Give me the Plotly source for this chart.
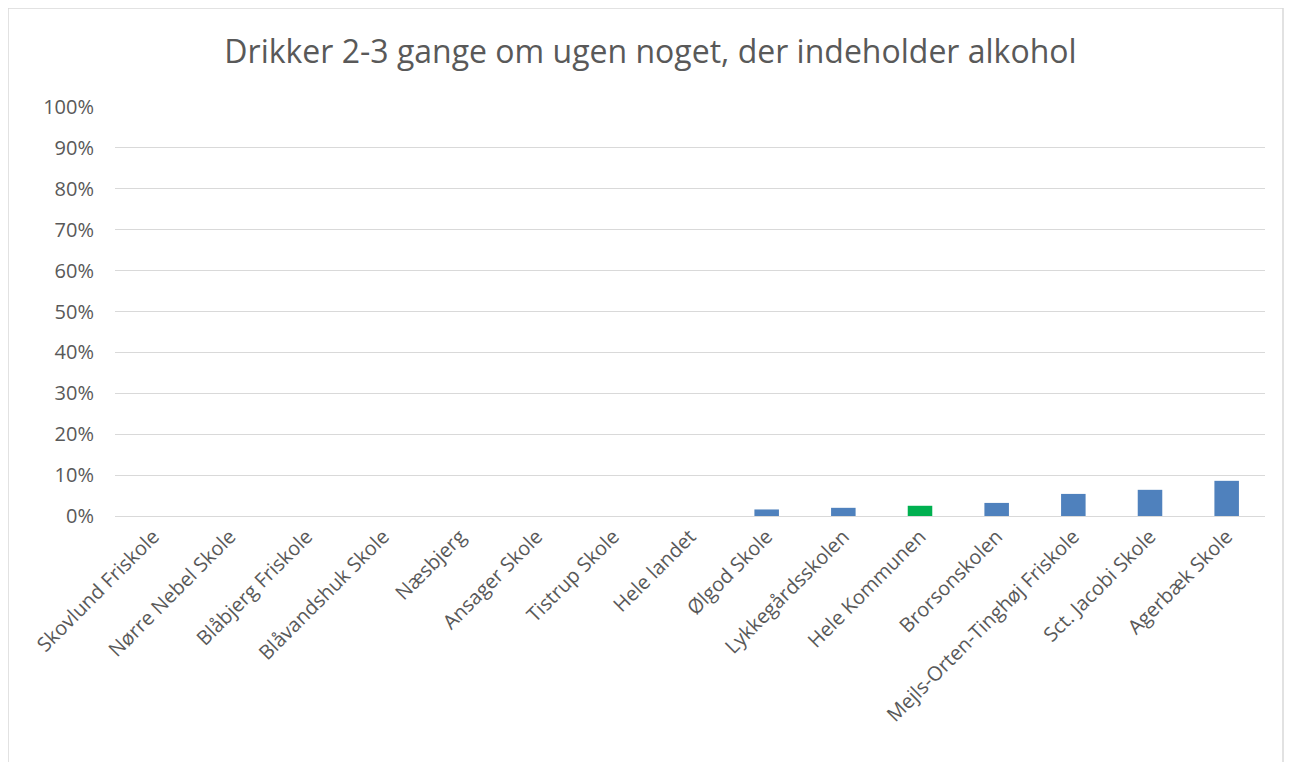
import plotly.graph_objects as go

categories = ["Skovlund Friskole", "Nørre Nebel Skole", "Blåbjerg Friskole", "Blåvandshuk Skole",
              "Næsbjerg", "Ansager Skole", "Tistrup Skole", "Hele landet", "Ølgod Skole",
              "Lykkegårdsskolen", "Hele Kommunen", "Brorsonskolen", "Mejls-Orten-Tinghøj Friskole",
              "Sct. Jacobi Skole", "Agerbæk Skole"]
values = [0.0, 0.0, 0.0, 0.0, 0.0, 0.0, 0.0, 0.0, 0.016, 0.020, 0.025, 0.032, 0.054, 0.064, 0.086]
highlight = "Hele Kommunen"
colors = ["#00B050" if c == highlight else "#4F81BD" for c in categories]
y_ticks = [i / 10 for i in range(11)]

W, H = 1285, 754

fig = go.Figure(go.Bar(x=categories, y=values, marker=dict(color=colors, line=dict(width=0)), width=0.32))

fig.update_layout(
    width=W, height=H,
    paper_bgcolor="white", plot_bgcolor="white",
    margin=dict(l=107, r=28, t=99, b=246),
    title=dict(text="Drikker 2-3 gange om ugen noget, der indeholder alkohol",
               x=0.5, xanchor="center", y=1 - 44 / H, yanchor="middle",
               font=dict(family="Open Sans", size=32, color="#595959")),
    font=dict(family="Open Sans", color="#595959"),
    showlegend=False,
)
fig.update_yaxes(range=[0, 1], tickvals=y_ticks, tickformat=".0%", gridcolor="#D9D9D9",
                 gridwidth=1, zeroline=False, showline=False, ticks="",
                 tickfont=dict(size=20, color="#595959"), ticklabelstandoff=20)
fig.update_xaxes(tickangle=-45, tickfont=dict(size=20, color="#595959"), showline=True,
                 linecolor="#D9D9D9", linewidth=1, ticks="", showgrid=False)
fig.add_shape(type="rect", xref="paper", yref="paper",
              x0=-107 / 1150, x1=(1275 - 107) / 1150, y0=-300 / 409, y1=(99) / 409 + 1,
              line=dict(color="#D9D9D9", width=1.5), fillcolor="rgba(0,0,0,0)", layer="below")
fig.write_html("out.html")
